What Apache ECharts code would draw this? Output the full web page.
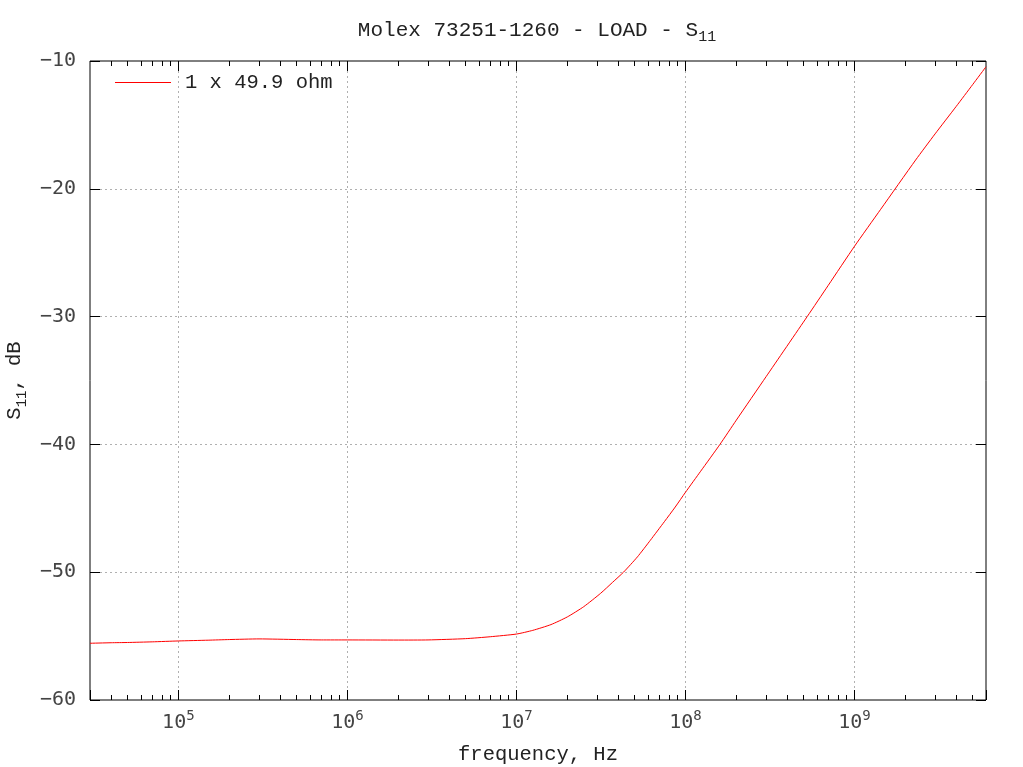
<!DOCTYPE html>
<html>
<head>
<meta charset="utf-8">
<script src="https://cdn.jsdelivr.net/npm/echarts@6/dist/echarts.min.js"></script>
<style>html,body{margin:0;padding:0;background:#fff}#c{width:1023px;height:767px}</style>
</head>
<body>
<div id="c"></div>
<script>
// ---- data ----
const freqHz = [3e4, 4e4, 5e4, 7e4, 1e5, 1.5e5, 2e5, 3e5, 5e5, 7e5, 1e6, 2e6, 3e6, 5e6, 7e6,
  1e7, 1.25e7, 1.6e7, 2e7, 2.5e7, 3.15e7, 3.7e7, 4.3e7, 5.2e7, 6.2e7, 7.5e7, 8.7e7, 1e8, 1.23e8, 1.6e8,
  2e8, 3e8, 5.25e8, 7e8, 1e9, 1.43e9, 2.3e9, 3e9, 4e9, 5e9, 6e9];
const s11dB = [-55.56, -55.52, -55.5, -55.45, -55.38, -55.32, -55.27, -55.22, -55.27, -55.3, -55.3, -55.31, -55.3, -55.2, -55.05,
  -54.84, -54.55, -54.1, -53.5, -52.7, -51.65, -50.8, -50.0, -48.8, -47.5, -46.05, -44.9, -43.75, -42.1, -40.0,
  -38.1, -34.7, -30.0, -27.55, -24.5, -21.6, -17.75, -15.7, -13.55, -11.85, -10.45];
const seriesName = '1 x 49.9 ohm';
const xRange = [3e4, 6e9];
const yRange = [-60, -10];
const yStep = 10;
const xMajorDecades = [5, 6, 7, 8, 9];
const minorMultipliers = [2, 3, 4, 5, 6, 7, 8, 9];

const lg = Math.log10;
const xLo = lg(xRange[0]), xHi = lg(xRange[1]);
const majorLog = xMajorDecades.slice();
const minorLog = [];
for (let d = 4; d <= 9; d++) {
  for (const m of minorMultipliers) {
    const v = m * Math.pow(10, d);
    if (v > xRange[0] && v < xRange[1]) minorLog.push(lg(v));
  }
}

const MONO = '"Liberation Mono", "Courier New", monospace';
const SANSMONO = '"DejaVu Sans Mono", monospace';
const TXT = '#222';

function decoAxis(pos, values, len) {
  return {
    type: 'value', position: pos, min: xLo, max: xHi,
    axisLine: {show: false},
    axisTick: {show: true, inside: true, length: len, customValues: values, lineStyle: {color: '#000', width: 1}},
    axisLabel: {show: false},
    splitLine: {show: false}
  };
}

const chart = echarts.init(document.getElementById('c'), null, {renderer: 'canvas'});
chart.setOption({
  animation: false,
  backgroundColor: '#fff',
  title: {
    text: '{a|Molex 73251-1260 - LOAD - S}{s|11}',
    left: 537, top: 15, textAlign: 'center', padding: 0,
    textStyle: {
      fontWeight: 'normal',
      rich: {
        a: {fontFamily: MONO, fontSize: 21, fontWeight: 'normal', color: TXT, lineHeight: 30},
        s: {fontFamily: MONO, fontSize: 15, fontWeight: 'normal', color: TXT, lineHeight: 15, verticalAlign: 'bottom'}
      }
    }
  },
  legend: {
    data: [seriesName], left: 110, top: 67, icon: 'rect', itemWidth: 56, itemHeight: 1,
    textStyle: {fontFamily: MONO, fontSize: 20.5, color: TXT, padding: [0, 0, 0, 9]}
  },
  grid: {left: 90, right: 37, top: 61, bottom: 67, containLabel: false, outerBoundsMode: 'none',
    show: true, borderColor: '#000', borderWidth: 1, backgroundColor: 'transparent'},
  xAxis: [
    {
      type: 'log', logBase: 10, min: xRange[0], max: xRange[1], position: 'bottom',
      name: 'frequency, Hz', nameLocation: 'middle', nameGap: 44,
      nameTextStyle: {fontFamily: MONO, fontSize: 20.5, color: TXT},
      axisLine: {show: false},
      axisTick: {show: true, inside: true, length: 10, lineStyle: {color: '#000'}},
      axisLabel: {
        margin: 9,
        formatter: function (v) {
          const e = Math.round(lg(v));
          if (Math.abs(lg(v) - e) > 1e-6 || majorLog.indexOf(e) < 0) return '';
          return '{b|10}{p|' + e + '}';
        },
        rich: {
          b: {fontFamily: SANSMONO, fontSize: 20, color: '#444', lineHeight: 28},
          p: {fontFamily: SANSMONO, fontSize: 14, color: '#444', lineHeight: 14, verticalAlign: 'top'}
        }
      },
      splitLine: {show: true, showMinLine: false, showMaxLine: false, lineStyle: {color: '#b0b0b0', type: [2, 3], width: 1}}
    },
    decoAxis('bottom', minorLog, 5),
    decoAxis('top', majorLog, 10),
    decoAxis('top', minorLog, 5)
  ],
  yAxis: [
    {
      type: 'value', min: yRange[0], max: yRange[1], interval: yStep, position: 'left',
      name: '{a|S}{s|11}{a|, dB}', nameLocation: 'middle', nameGap: 60, nameRotate: 90,
      nameTextStyle: {
        rich: {
          a: {fontFamily: MONO, fontSize: 20.5, color: TXT, lineHeight: 28},
          s: {fontFamily: MONO, fontSize: 14, color: TXT, lineHeight: 14, verticalAlign: 'bottom'}
        }
      },
      axisLine: {show: false},
      axisTick: {show: true, inside: true, length: 10, lineStyle: {color: '#000'}},
      axisLabel: {fontFamily: SANSMONO, fontSize: 20, color: '#444', margin: 14,
        formatter: v => String(v).replace('-', '\u2212')},
      splitLine: {show: true, showMinLine: false, showMaxLine: false, lineStyle: {color: '#b0b0b0', type: [2, 3], width: 1}}
    },
    {
      type: 'value', min: yRange[0], max: yRange[1], interval: yStep, position: 'right',
      axisLine: {show: false},
      axisTick: {show: true, inside: true, length: 10, lineStyle: {color: '#000'}},
      axisLabel: {show: false},
      splitLine: {show: false}
    }
  ],
  series: [{
    name: seriesName, type: 'line', xAxisIndex: 0, yAxisIndex: 0,
    data: freqHz.map((f, i) => [f, s11dB[i]]),
    showSymbol: false, symbol: 'none', smooth: 0.2,
    lineStyle: {color: '#ff0000', width: 1}, itemStyle: {color: '#ff0000'}
  }]
});
</script>
</body>
</html>
